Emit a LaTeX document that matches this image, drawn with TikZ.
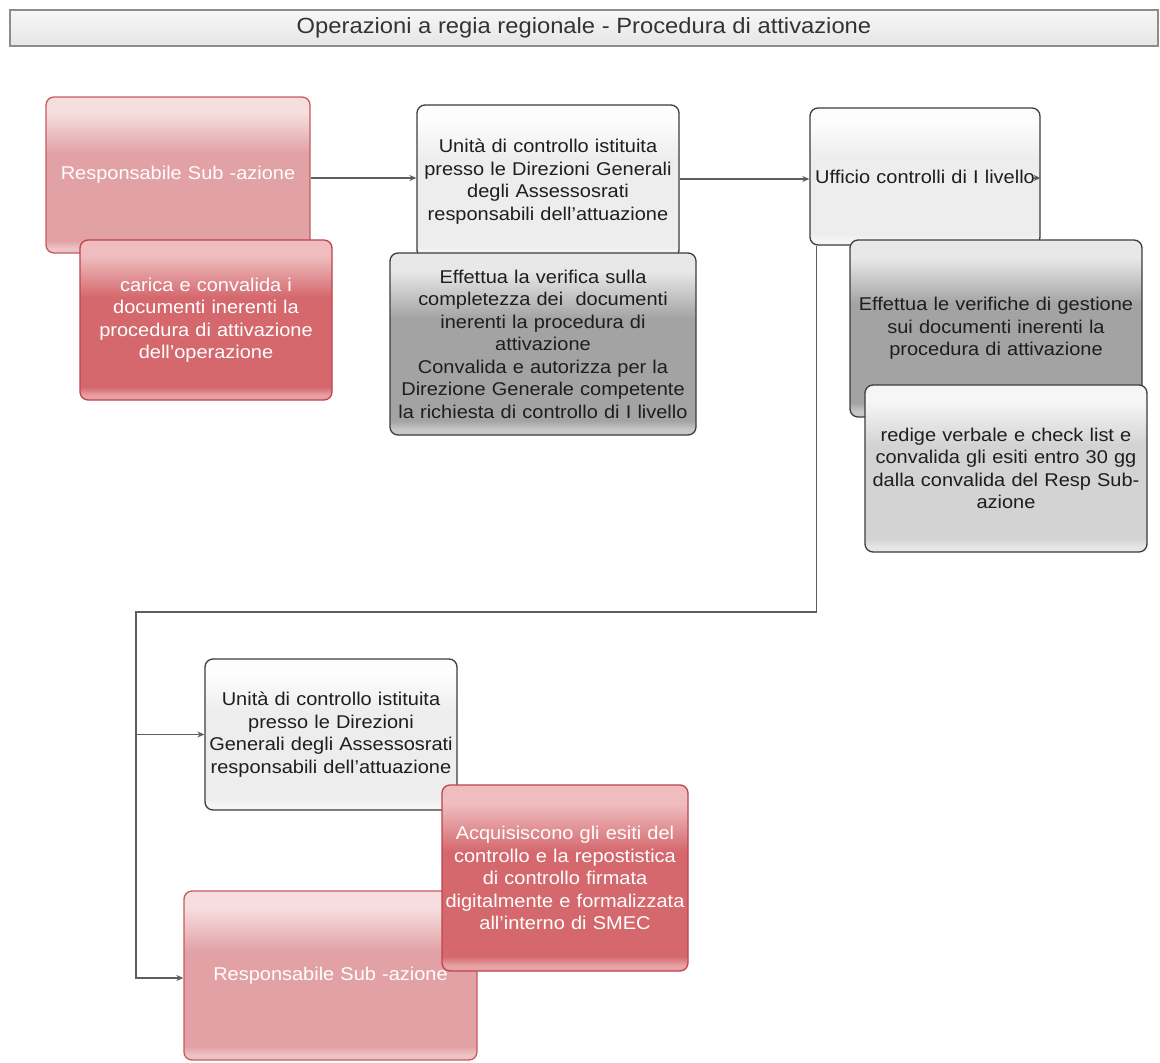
\documentclass[tikz,border=0pt]{standalone}
\usepackage{fontspec}
\setmainfont{Liberation Sans}[FakeStretch=1.08]
\usetikzlibrary{arrows.meta}

% palette
\definecolor{roseBody}{HTML}{E2A1A5}
\definecolor{roseHi}{HTML}{F6DEDF}
\definecolor{roseBand}{HTML}{EDC3C5}
\definecolor{roseLine}{HTML}{C55A60}
\definecolor{redBody}{HTML}{D4686D}
\definecolor{redHi}{HTML}{EFBDBF}
\definecolor{redBand}{HTML}{E7A2A5}
\definecolor{redLine}{HTML}{BF444A}
\definecolor{paleBody}{HTML}{EDEDED}
\definecolor{paleHi}{HTML}{FDFDFD}
\definecolor{paleBand}{HTML}{F6F6F6}
\definecolor{greyBody}{HTML}{A3A3A3}
\definecolor{greyHi}{HTML}{E8E8E8}
\definecolor{greyBand}{HTML}{C8C8C8}
\definecolor{silverBody}{HTML}{D3D3D3}
\definecolor{silverHi}{HTML}{F6F6F6}
\definecolor{silverBand}{HTML}{E6E6E6}
\definecolor{darkLine}{HTML}{3C3C3C}
\definecolor{connLine}{HTML}{5E5E5E}
\definecolor{inkDark}{HTML}{1E1E1E}

% glossy vertical shading: #1 name, #2 body, #3 highlight, #4 bottom band
\newcommand{\glossy}[4]{%
  \pgfdeclareverticalshading{#1}{100bp}{color(0bp)=(#2); color(25bp)=(#4);
    color(26.5bp)=(#4); color(29bp)=(#2); color(57bp)=(#2); color(70bp)=(#3);
    color(75bp)=(#3); color(100bp)=(#3)}}
\glossy{roseGloss}{roseBody}{roseHi}{roseBand}
\glossy{redGloss}{redBody}{redHi}{redBand}
\glossy{paleGloss}{paleBody}{paleHi}{paleBand}
\glossy{greyGloss}{greyBody}{greyHi}{greyBand}
\glossy{silverGloss}{silverBody}{silverHi}{silverBand}

\tikzset{
  box/.style={rectangle, rounded corners=8pt, line width=1.3pt, inner sep=2pt,
    align=center, font=\fontsize{18.5}{22.5}\selectfont},
  rosebox/.style={box, draw=roseLine, shade, shading=roseGloss, text=white},
  redbox/.style={box, draw=redLine, shade, shading=redGloss, text=white},
  palebox/.style={box, draw=darkLine, shade, shading=paleGloss, text=inkDark},
  greybox/.style={box, draw=darkLine, shade, shading=greyGloss, text=inkDark},
  silverbox/.style={box, draw=darkLine, shade, shading=silverGloss, text=inkDark},
  titlebar/.style={rectangle, draw=black!45, line width=1.3pt, top color=black!3,
    bottom color=black!10, text=black!80, font=\fontsize{22}{26}\selectfont},
  conn/.style={draw=connLine, line width=1.2pt, -{Stealth[length=7pt,width=6pt]}},
}

\begin{document}
\begin{tikzpicture}[x=1pt,y=-1pt]
\useasboundingbox (0,0) rectangle (1160,1063);

% title bar
\node[titlebar, minimum width=1148pt, minimum height=36pt] (title) at (584,28)
  {Operazioni a regia regionale - Procedura di attivazione};

% first row: sub-action manager
\node[rosebox, minimum width=264pt, minimum height=156pt, text width=256pt] (A1) at (178,175)
  {Responsabile Sub -azione};
\node[redbox, minimum width=252pt, minimum height=160pt, text width=246pt] (A2) at (206,320)
  {carica e convalida i\\documenti inerenti la\\procedura di attivazione\\dell'operazione};

% control unit
\node[palebox, minimum width=262pt, minimum height=153pt, text width=256pt] (B1) at (548,181.5)
  {Unità di controllo istituita\\presso le Direzioni Generali\\degli Assessosrati\\responsabili dell'attuazione};
\node[greybox, minimum width=306pt, minimum height=182pt, text width=302pt] (B2) at (543,344)
  {Effettua la verifica sulla\\completezza dei\ \ documenti\\inerenti la procedura di\\attivazione\\Convalida e autorizza per la\\Direzione Generale competente\\la richiesta di controllo di I livello};

% first level control office
\node[palebox, minimum width=230pt, minimum height=137pt, text width=226pt] (C1) at (925,176.5)
  {Ufficio controlli di I livello};
\node[greybox, minimum width=292pt, minimum height=177pt, text width=286pt] (C2) at (996,328.5)
  {Effettua le verifiche di gestione\\sui documenti inerenti la\\procedura di attivazione};
\node[silverbox, minimum width=282pt, minimum height=167pt, text width=276pt] (C3) at (1006,468.5)
  {redige verbale e check list e\\convalida gli esiti entro 30 gg\\dalla convalida del Resp Sub-\\azione};

% return branch
\node[palebox, minimum width=252pt, minimum height=151pt, text width=248pt] (D1) at (331,734.5)
  {Unità di controllo istituita\\presso le Direzioni\\Generali degli Assessosrati\\responsabili dell'attuazione};
\node[rosebox, minimum width=293pt, minimum height=169pt, text width=286pt] (E1) at (330.5,975.5)
  {Responsabile Sub -azione};
\node[redbox, minimum width=246pt, minimum height=186pt, text width=242pt] (E2) at (565,878)
  {Acquisiscono gli esiti del\\controllo e la repostistica\\di controllo firmata\\digitalmente e formalizzata\\all'interno di SMEC};

% connectors
\coordinate (drop) at ([xshift=7pt]C1.south west);
\coordinate (bend) at (136,612);
\draw[conn] (A1.east |- 0,178) -- (B1.west |- 0,178);
\draw[conn] (B1.east |- 0,179) -- (C1.west |- 0,179);
\draw[conn] ([xshift=-7pt]C1.east |- 0,178) -- (C1.east |- 0,178);
\draw[conn] (drop) |- (bend) |- (E1.west |- 0,978);
\draw[conn] (bend |- D1.west) -- (D1.west);
\end{tikzpicture}
\end{document}
